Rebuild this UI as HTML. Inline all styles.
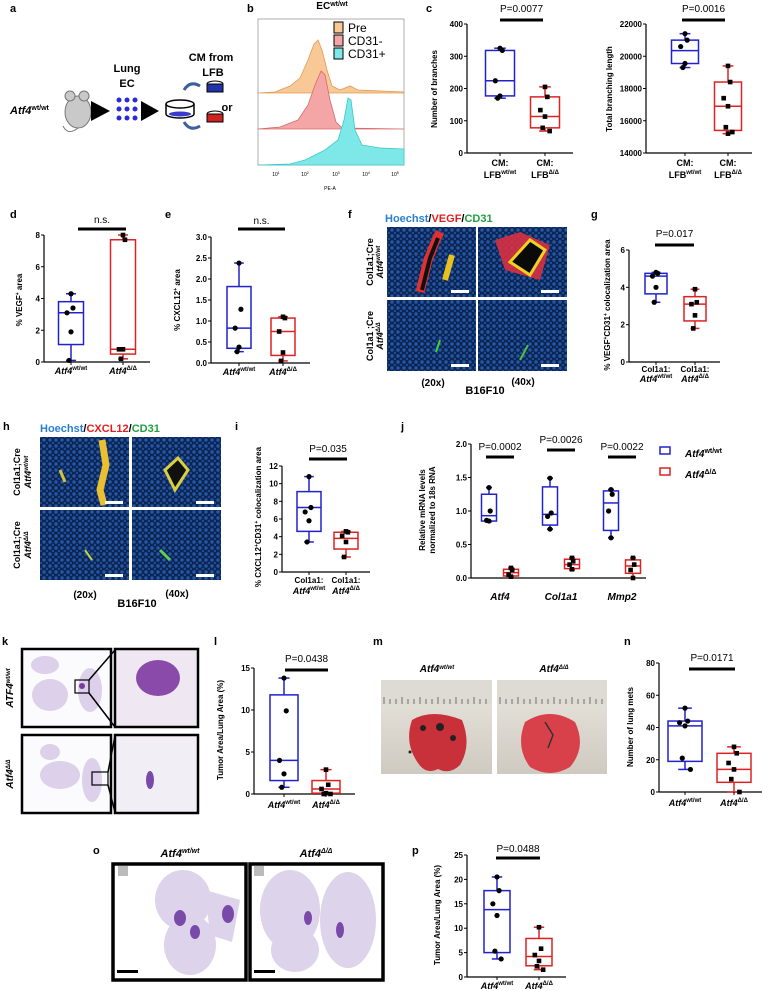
<!DOCTYPE html>
<html><head><meta charset="utf-8"><style>
html,body{margin:0;padding:0;background:#fff;width:764px;height:991px;overflow:hidden}
svg{display:block;font-family:"Liberation Sans",sans-serif}
.pl{font-size:11px;font-weight:bold}
.tk{font-size:8px;font-weight:bold}
.yl{font-size:8px;font-weight:bold}
</style></head><body>
<svg id="fig" width="764" height="991" viewBox="0 0 764 991">
<defs>
<pattern id="nuc" width="6" height="6" patternUnits="userSpaceOnUse"><rect width="6" height="6" fill="#0d2552"/><circle cx="2" cy="2" r="1.7" fill="#2458a8"/><circle cx="5" cy="5" r="1.3" fill="#1c4a94"/></pattern>
<linearGradient id="photo" x1="0" y1="0" x2="0" y2="1"><stop offset="0" stop-color="#e9e6df"/><stop offset="1" stop-color="#cfcac0"/></linearGradient>
</defs>
<rect width="764" height="991" fill="#fff"/>

<g>
<text class="pl" x="10" y="12">a</text><text class="pl" x="247" y="12">b</text><text class="pl" x="426" y="12">c</text>
<text class="pl" x="10" y="218">d</text><text class="pl" x="165" y="218">e</text><text class="pl" x="348" y="218">f</text><text class="pl" x="591" y="218">g</text>
<text class="pl" x="3" y="430">h</text><text class="pl" x="235" y="430">i</text><text class="pl" x="401" y="430">j</text>
<text class="pl" x="2" y="645">k</text><text class="pl" x="214" y="645">l</text><text class="pl" x="373" y="645">m</text><text class="pl" x="624" y="645">n</text>
<text class="pl" x="93" y="854">o</text><text class="pl" x="412" y="854">p</text>
</g>

<g>
<text x="10" y="114" font-size="11" font-weight="bold" font-style="italic">Atf4<tspan font-size="7" dy="-4" font-style="normal">wt/wt</tspan></text>
<g><ellipse cx="78" cy="112" rx="13" ry="16" fill="#c9c9c9" stroke="#777"/><circle cx="70" cy="96" r="5" fill="#c9c9c9" stroke="#777"/><circle cx="84" cy="96" r="5" fill="#c9c9c9" stroke="#777"/><path d="M78 128 q-10 8 -15 -2" fill="none" stroke="#777"/></g>
<polygon points="91,101 110,111 91,121" fill="#000"/>
<g fill="#2a2ad8"><circle cx="119" cy="100" r="2.5"/><circle cx="127" cy="100" r="2.5"/><circle cx="135" cy="100" r="2.5"/><circle cx="119" cy="109" r="2.5"/><circle cx="127" cy="109" r="2.5"/><circle cx="135" cy="109" r="2.5"/><circle cx="119" cy="118" r="2.5"/><circle cx="127" cy="118" r="2.5"/><circle cx="135" cy="118" r="2.5"/></g>
<text x="127" y="72" font-size="11" font-weight="bold" text-anchor="middle">Lung</text><text x="127" y="87" font-size="11" font-weight="bold" text-anchor="middle">EC</text>
<polygon points="141,101 159,111 141,121" fill="#000"/>
<g><ellipse cx="180" cy="104" rx="14" ry="4" fill="#fff" stroke="#000" stroke-width="1.5"/><path d="M166 104 v10 a14 4 0 0 0 28 0 v-10" fill="none" stroke="#000" stroke-width="1.5"/><ellipse cx="180" cy="114" rx="11" ry="2.5" fill="#3a3ad0"/></g>
<text x="211" y="61" font-size="11" font-weight="bold" text-anchor="middle">CM from</text><text x="213" y="76" font-size="11" font-weight="bold" text-anchor="middle">LFB</text>
<g><ellipse cx="215" cy="84" rx="8" ry="3" fill="#fff" stroke="#000"/><rect x="207" y="84" width="16" height="8" fill="#2233aa" stroke="#000"/></g>
<g><ellipse cx="215" cy="114" rx="8" ry="3" fill="#fff" stroke="#000"/><rect x="207" y="114" width="16" height="8" fill="#cc2222" stroke="#000"/></g>
<text x="227" y="111" font-size="11" font-weight="bold" text-anchor="middle">or</text>
<path d="M200 86 q-10 -6 -16 4" fill="none" stroke="#3d5f9a" stroke-width="3"/>
<path d="M200 126 q-10 6 -16 -4" fill="none" stroke="#3d5f9a" stroke-width="3"/>
</g>

<g>
<text x="332" y="9" font-size="10" font-weight="bold" text-anchor="middle">EC<tspan font-size="7" dy="-3">wt/wt</tspan></text>
<rect x="258" y="19" width="146" height="146" fill="#fff" stroke="#999" stroke-width="0.8"/>
<path d="M258 93 L275 92 L290 86 L300 78 L308 60 L314 44 L318 40 L322 50 L327 70 L332 86 L340 90 L350 86 L358 90 L404 92 L404 93 Z" fill="#f8c896" stroke="#e29a50" stroke-width="0.8"/>
<path d="M258 129 L280 127 L298 120 L308 105 L315 85 L321 71 L325 75 L330 100 L336 122 L342 128 L404 129 Z" fill="#f4a5a5" stroke="#d86a6a" stroke-width="0.8"/>
<path d="M258 165 L290 164 L305 160 L325 150 L338 140 L344 120 L348 98 L351 100 L355 130 L362 145 L380 148 L404 149 L404 165 Z" fill="#7ee8e8" stroke="#3ccaca" stroke-width="0.8"/>
<g font-size="12">
<rect x="334" y="22" width="9" height="11" fill="#f8c896" stroke="#000"/><text x="348" y="32">Pre</text>
<rect x="334" y="35" width="9" height="11" fill="#f4a5a5" stroke="#000"/><text x="348" y="45">CD31-</text>
<rect x="334" y="48" width="9" height="11" fill="#7ee8e8" stroke="#000"/><text x="348" y="58">CD31+</text>
</g>
<g font-size="5" text-anchor="middle">
<text x="276" y="176">10<tspan font-size="3.5" dy="-2">1</tspan></text><text x="305" y="176">10<tspan font-size="3.5" dy="-2">2</tspan></text><text x="336" y="176">10<tspan font-size="3.5" dy="-2">3</tspan></text><text x="366" y="176">10<tspan font-size="3.5" dy="-2">4</tspan></text><text x="395" y="176">10<tspan font-size="3.5" dy="-2">5</tspan></text>
<text x="330" y="190">PE-A</text></g>
</g>

<g>
<text x="385" y="222" font-size="11" font-weight="bold"><tspan fill="#2a7fd0">Hoechst</tspan>/<tspan fill="#e02020">VEGF</tspan>/<tspan fill="#20a040">CD31</tspan></text>
<rect x="387" y="227" width="89" height="70" fill="url(#nuc)"/><rect x="478" y="227" width="89" height="70" fill="url(#nuc)"/>
<rect x="387" y="300" width="89" height="71" fill="url(#nuc)"/><rect x="478" y="300" width="89" height="71" fill="url(#nuc)"/>
<path d="M420 292 L428 260 L436 240 L440 232" stroke="#e03030" stroke-width="9" fill="none"/><path d="M422 290 L430 258 L438 238" stroke="#111" stroke-width="4" fill="none"/>
<path d="M445 280 L452 255" stroke="#e8c020" stroke-width="6" fill="none"/>
<path d="M495 240 L520 232 L550 245 L540 280 L505 270 Z" fill="#d83040" opacity="0.9"/><path d="M510 262 L530 240 L545 250 L530 275 Z" fill="#0a0a0a" stroke="#f0d020" stroke-width="3"/>
<path d="M436 352 L440 340" stroke="#40d040" stroke-width="2"/><path d="M520 360 L528 345" stroke="#50c040" stroke-width="2"/>
<g fill="#fff"><rect x="451" y="290" width="18" height="3"/><rect x="541" y="290" width="18" height="3"/><rect x="451" y="364" width="18" height="3"/><rect x="541" y="364" width="18" height="3"/></g>
<text transform="translate(373,262) rotate(-90)" font-size="9" font-weight="bold" text-anchor="middle">Col1a1;Cre</text>
<text transform="translate(383,262) rotate(-90)" font-size="9" font-weight="bold" font-style="italic" text-anchor="middle">Atf4<tspan font-size="6" dy="-3">wt/wt</tspan></text>
<text transform="translate(373,336) rotate(-90)" font-size="9" font-weight="bold" text-anchor="middle">Col1a1 ;Cre</text>
<text transform="translate(383,336) rotate(-90)" font-size="9" font-weight="bold" font-style="italic" text-anchor="middle">Atf4<tspan font-size="6" dy="-3">Δ/Δ</tspan></text>
<text x="433" y="386" font-size="10" font-weight="bold" text-anchor="middle">(20x)</text>
<text x="485" y="394" font-size="11" font-weight="bold" text-anchor="middle">B16F10</text>
<text x="523" y="385" font-size="10" font-weight="bold" text-anchor="middle">(40x)</text>
</g>

<g>
<text x="40" y="432" font-size="11" font-weight="bold"><tspan fill="#2a7fd0">Hoechst</tspan>/<tspan fill="#e02020">CXCL12</tspan>/<tspan fill="#20a040">CD31</tspan></text>
<rect x="40" y="437" width="89" height="70" fill="url(#nuc)"/><rect x="132" y="437" width="89" height="70" fill="url(#nuc)"/>
<rect x="40" y="510" width="89" height="70" fill="url(#nuc)"/><rect x="132" y="510" width="89" height="70" fill="url(#nuc)"/>
<path d="M102 440 L106 465 L100 490 L104 505" stroke="#e8c030" stroke-width="7" fill="none"/><path d="M60 470 L65 482" stroke="#d0c040" stroke-width="3"/>
<path d="M165 470 L178 458 L188 470 L175 490 Z" fill="#101010" stroke="#d8d040" stroke-width="3"/>
<path d="M85 550 L92 560" stroke="#c0d050" stroke-width="2"/><path d="M160 550 L170 560" stroke="#60d050" stroke-width="3"/>
<g fill="#fff"><rect x="105" y="501" width="18" height="3"/><rect x="196" y="501" width="18" height="3"/><rect x="105" y="574" width="18" height="3"/><rect x="196" y="574" width="18" height="3"/></g>
<text transform="translate(20,472) rotate(-90)" font-size="9" font-weight="bold" text-anchor="middle">Col1a1;Cre</text>
<text transform="translate(31,472) rotate(-90)" font-size="9" font-weight="bold" font-style="italic" text-anchor="middle">Atf4<tspan font-size="6" dy="-3">wt/wt</tspan></text>
<text transform="translate(20,545) rotate(-90)" font-size="9" font-weight="bold" text-anchor="middle">Col1a1;Cre</text>
<text transform="translate(31,545) rotate(-90)" font-size="9" font-weight="bold" font-style="italic" text-anchor="middle">Atf4<tspan font-size="6" dy="-3">Δ/Δ</tspan></text>
<text x="85" y="598" font-size="10" font-weight="bold" text-anchor="middle">(20x)</text>
<text x="137" y="607" font-size="11" font-weight="bold" text-anchor="middle">B16F10</text>
<text x="177" y="597" font-size="10" font-weight="bold" text-anchor="middle">(40x)</text>
</g>

<g>
<rect x="22" y="649" width="89" height="78" fill="#fbfafd" stroke="#000" stroke-width="2.5"/><rect x="115" y="649" width="83" height="78" fill="#efe8f3" stroke="#000" stroke-width="2.5"/>
<rect x="22" y="735" width="89" height="78" fill="#fbfafd" stroke="#000" stroke-width="2.5"/><rect x="115" y="735" width="83" height="78" fill="#f2eef6" stroke="#000" stroke-width="2.5"/>
<g fill="#dcd0ea"><ellipse cx="45" cy="665" rx="14" ry="9"/><ellipse cx="50" cy="695" rx="18" ry="16"/><ellipse cx="90" cy="690" rx="12" ry="22"/><ellipse cx="60" cy="775" rx="20" ry="14"/><ellipse cx="92" cy="780" rx="10" ry="22"/><ellipse cx="50" cy="752" rx="10" ry="8"/></g>
<rect x="75" y="680" width="14" height="13" fill="none" stroke="#000" stroke-width="1.2"/><circle cx="82" cy="686" r="3" fill="#7a3d9a"/>
<ellipse cx="158" cy="678" rx="22" ry="18" fill="#8a4aaa"/>
<rect x="92" y="772" width="16" height="13" fill="none" stroke="#000" stroke-width="1.2"/>
<ellipse cx="150" cy="780" rx="4" ry="9" fill="#7a4aa8"/>
<path d="M89 680 L115 650 M89 693 L115 727 M108 772 L115 736 M108 785 L115 812" stroke="#000" stroke-width="1.5"/>
<text transform="translate(13,688) rotate(-90)" font-size="10" font-weight="bold" font-style="italic" text-anchor="middle">ATF4<tspan font-size="6" dy="-3">wt/wt</tspan></text>
<text transform="translate(13,774) rotate(-90)" font-size="10" font-weight="bold" font-style="italic" text-anchor="middle">Atf4<tspan font-size="6" dy="-3">Δ/Δ</tspan></text>
</g>

<g>
<text x="437" y="672" font-size="10" font-weight="bold" font-style="italic" text-anchor="middle">Atf4<tspan font-size="6" dy="-3">wt/wt</tspan></text>
<text x="554" y="672" font-size="10" font-weight="bold" font-style="italic" text-anchor="middle">Atf4<tspan font-size="6" dy="-3">Δ/Δ</tspan></text>
<rect x="381" y="680" width="111" height="94" fill="url(#photo)"/><rect x="497" y="680" width="110" height="94" fill="url(#photo)"/>
<rect x="381" y="680" width="111" height="24" fill="#dedbd4"/><rect x="497" y="680" width="110" height="24" fill="#dedbd4"/>
<path d="M384 704 V697 M390 704 V699 M396 704 V699 M402 704 V697 M408 704 V699 M414 704 V699 M420 704 V697 M426 704 V699 M432 704 V699 M438 704 V697 M444 704 V699 M450 704 V699 M456 704 V697 M462 704 V699 M468 704 V699 M474 704 V697 M480 704 V699 M486 704 V699 M500 704 V697 M506 704 V699 M512 704 V699 M518 704 V697 M524 704 V699 M530 704 V699 M536 704 V697 M542 704 V699 M548 704 V699 M554 704 V697 M560 704 V699 M566 704 V699 M572 704 V697 M578 704 V699 M584 704 V699 M590 704 V697 M596 704 V699 M602 704 V699" stroke="#555" stroke-width="0.8"/>
<path d="M412 720 q20 -12 50 0 q10 25 -2 45 q-10 10 -22 4 q-12 6 -20 -6 q-14 -20 -6 -43 z" fill="#c8303a"/>
<circle cx="423" cy="728" r="3" fill="#222"/><circle cx="440" cy="727" r="4" fill="#222"/><circle cx="453" cy="738" r="3" fill="#222"/><circle cx="410" cy="752" r="1.5" fill="#222"/>
<path d="M525 722 q25 -16 50 0 q12 25 -5 45 q-20 12 -40 0 q-15 -20 -5 -45 z" fill="#d8404a"/>
<path d="M545 722 L553 735 L548 748" stroke="#333" stroke-width="1.5" fill="none"/>
</g>

<g>
<text x="180" y="857" font-size="11" font-weight="bold" font-style="italic" text-anchor="middle">Atf4<tspan font-size="7" dy="-4">wt/wt</tspan></text>
<text x="316" y="857" font-size="11" font-weight="bold" font-style="italic" text-anchor="middle">Atf4<tspan font-size="7" dy="-4">Δ/Δ</tspan></text>
<rect x="113" y="864" width="133" height="116" fill="#fff" stroke="#000" stroke-width="3.5"/><rect x="250" y="864" width="133" height="116" fill="#fff" stroke="#000" stroke-width="3.5"/>
<g fill="#ddd3ea"><ellipse cx="183" cy="900" rx="28" ry="30"/><ellipse cx="190" cy="945" rx="26" ry="30"/><path d="M205 890 L240 900 L232 942 L210 935 Z"/><ellipse cx="290" cy="910" rx="30" ry="40"/><ellipse cx="348" cy="920" rx="28" ry="48"/><ellipse cx="295" cy="950" rx="24" ry="22"/></g>
<g fill="#7a4aa8"><ellipse cx="180" cy="918" rx="6" ry="8"/><ellipse cx="195" cy="932" rx="5" ry="7"/><ellipse cx="228" cy="914" rx="6" ry="9"/><ellipse cx="308" cy="918" rx="4" ry="7"/><ellipse cx="340" cy="930" rx="4" ry="8"/></g>
<rect x="118" y="866" width="10" height="10" fill="#bbb"/><rect x="254" y="866" width="10" height="10" fill="#bbb"/>
<rect x="117" y="970" width="21" height="3" fill="#000"/><rect x="254" y="970" width="21" height="3" fill="#000"/>
</g>

<g id="charts"></g>
</svg>
<script>
const boxCats = ['wt/wt','Δ/Δ'];
const cBranchTicks = [0,100,200,300,400];
const cBranchWt = [170,177,224,318,325];
const cBranchWtPts = [325,318,224,177,170];
const cBranchKo = [68,78,113,174,205];
const cBranchKoPts = [205,174,133,113,78,68];
const cLenTicks = [14000,16000,18000,20000,22000];
const cLenWt = [19300,19550,20350,21000,21400];
const cLenWtPts = [21400,21000,20600,19550,19300];
const cLenKo = [15200,15400,16900,18400,19400];
const cLenKoPts = [19400,18400,17400,16900,15600,15300,15200];
const dTicks = [0,2,4,6,8];
const dWt = [0.1,1.1,3.1,3.8,4.3];
const dWtPts = [4.3,3.4,3.1,1.9,0.1];
const dKo = [0.2,0.5,0.8,7.7,8.0];
const dKoPts = [8.0,7.7,0.8,0.8,0.2];
const eTicks = [0,0.5,1.0,1.5,2.0,2.5,3.0];
const eTickLabels = ['0.0','0.5','1.0','1.5','2.0','2.5','3.0'];
const eWt = [0.27,0.35,0.83,1.82,2.38];
const eWtPts = [2.38,1.28,0.83,0.38,0.27];
const eKo = [0.05,0.18,0.75,1.07,1.1];
const eKoPts = [1.1,1.07,0.75,0.25,0.05];
const gTicks = [0,2,4,6];
const gWt = [3.2,3.65,4.6,4.75,4.8];
const gWtPts = [4.8,4.75,4.6,4.0,3.2];
const gKo = [1.8,2.2,3.1,3.5,3.9];
const gKoPts = [3.9,3.2,3.1,2.5,1.8];
const iTicks = [0,2,4,6,8,10,12];
const iWt = [3.4,4.6,7.3,9.1,10.8];
const iWtPts = [10.8,7.3,6.8,5.8,3.4];
const iKo = [1.7,2.6,3.8,4.5,4.6];
const iKoPts = [4.6,4.5,4.1,3.4,1.7];
const jGenes = ['Atf4','Col1a1','Mmp2'];
const jPvals = ['P=0.0002','P=0.0026','P=0.0022'];
const jTicks = [0,0.5,1.0,1.5,2.0];
const jTickLabels = ['0.0','0.5','1.0','1.5','2.0'];
const jWt = [[0.84,0.85,0.93,1.25,1.35],[0.73,0.79,0.95,1.36,1.49],[0.6,0.71,1.12,1.3,1.32]];
const jWtPts = [[1.35,1.0,0.86,0.85],[1.49,0.97,0.92,0.73],[1.32,1.25,1.0,0.6]];
const jKo = [[0.02,0.03,0.08,0.13,0.15],[0.12,0.14,0.2,0.28,0.3],[0.0,0.07,0.18,0.27,0.3]];
const jKoPts = [[0.15,0.12,0.05,0.02],[0.3,0.25,0.2,0.13],[0.3,0.2,0.12,0.0]];
const lTicks = [0,5,10,15];
const lWt = [0.8,1.6,4.0,11.8,13.8];
const lWtPts = [13.8,9.9,4.0,2.4,0.8];
const lKo = [0,0.1,0.6,1.6,2.9];
const lKoPts = [2.9,1.1,0.6,0.1,0,0];
const nTicks = [0,20,40,60,80];
const nWt = [14,19,41,44,52];
const nWtPts = [52,44,43,41,21,14];
const nKo = [0,6,14,24,28];
const nKoPts = [28,24,18,14,8,0];
const pTicks = [0,5,10,15,20,25];
const pWt = [3.7,5,13.8,17.7,20.5];
const pWtPts = [20.5,17.7,15,12.6,5.3,3.7];
const pKo = [1.5,2.3,4.2,7.9,10.2];
const pKoPts = [10.2,5.8,4.5,3.3,2.2,1.5];

const NS = 'http://www.w3.org/2000/svg';
const root = document.getElementById('charts');
const BLUE = '#2222cc', RED = '#dd2222';
function mk(tag, attrs, parent) {
  const e = document.createElementNS(NS, tag);
  for (const k in attrs) e.setAttribute(k, attrs[k]);
  parent.appendChild(e);
  return e;
}
function scale(vmin, vmax, y0, y1) { return v => y0 + (v - vmin) / (vmax - vmin) * (y1 - y0); }

function axis(g, ax, y, vmin, vmax, ticks, labels, xEnd) {
  const yl = mk('line', {x1: ax, x2: ax, y1: y(vmin), y2: y(vmax), stroke: '#000', 'stroke-width': 1.2}, g);
  
  
  const xl = mk('line', {x1: ax, x2: xEnd, y1: y(vmin), y2: y(vmin), stroke: '#000', 'stroke-width': 1.2}, g);
  
  
  ticks.forEach((t, i) => {
    const tl = mk('line', {x1: ax - 3, x2: ax, y1: y(t), y2: y(t), stroke: '#000'}, g);
    
    
    const tx = mk('text', {x: ax - 4, y: y(t) + 3, 'text-anchor': 'end', class: 'tk'}, g);
    tx.textContent = labels ? labels[i] : String(t);
    
    
  });
}
function box(g, y, x, w, st, pts, color, square) {
  const bg = mk('g', {}, g);
  
  
  mk('line', {x1: x, x2: x, y1: y(st[0]), y2: y(st[4]), stroke: color, 'stroke-width': 1.5}, bg);
  mk('line', {x1: x - w * 0.2, x2: x + w * 0.2, y1: y(st[0]), y2: y(st[0]), stroke: color, 'stroke-width': 1.5}, bg);
  mk('line', {x1: x - w * 0.2, x2: x + w * 0.2, y1: y(st[4]), y2: y(st[4]), stroke: color, 'stroke-width': 1.5}, bg);
  mk('rect', {x: x - w / 2, y: y(st[3]), width: w, height: y(st[1]) - y(st[3]), fill: '#fff', stroke: color, 'stroke-width': 1.5}, bg);
  mk('line', {x1: x - w / 2, x2: x + w / 2, y1: y(st[2]), y2: y(st[2]), stroke: color, 'stroke-width': 1.5}, bg);
  pts.forEach((v, i) => {
    const dx = (i % 2 ? 1 : -1) * (i % 3) * w * 0.08;
    let p;
    if (square) p = mk('rect', {x: x + dx - 2.3, y: y(v) - 2.3, width: 4.6, height: 4.6, fill: '#000'}, bg);
    else p = mk('circle', {cx: x + dx, cy: y(v), r: 2.6, fill: '#000'}, bg);
    
    
  });
}
function sig(g, label, x1, x2, ty, by) {
  const t = mk('text', {x: (x1 + x2) / 2, y: ty, 'text-anchor': 'middle', 'font-size': 10}, g);
  t.textContent = label;
  
  
  const b = mk('rect', {x: x1, y: by - 1.5, width: x2 - x1, height: 3, fill: '#000'}, g);
  
  
}
function ylab(g, lines, x, cy) {
  lines.forEach((s, i) => {
    const t = mk('text', {transform: `translate(${x + i * 10},${cy}) rotate(-90)`, 'text-anchor': 'middle', class: 'yl'}, g);
    t.innerHTML = s;
    
    
  });
}
function catLab(g, x, y, pre, sup) {
  const t = mk('text', {x: x, y: y, 'text-anchor': 'middle', 'font-size': 9, 'font-weight': 'bold', 'font-style': 'italic'}, g);
  t.innerHTML = pre + '<tspan font-size="6" dy="-4" font-style="normal">' + sup + '</tspan>';
  
  
}
function boxChart(name, geo, ticks, labels, wt, wtPts, ko, koPts) {
  const g = mk('g', {}, root);
  
  
  const y = scale(geo.vmin, geo.vmax, geo.yB, geo.yT);
  axis(g, geo.ax, y, geo.vmin, geo.vmax, ticks, labels, geo.xEnd);
  box(g, y, geo.bx[0], geo.w, wt, wtPts, BLUE, false);
  box(g, y, geo.bx[1], geo.w, ko, koPts, RED, true);
  geo.bx.forEach(x => mk('line', {x1: x, x2: x, y1: geo.yB, y2: geo.yB + 3, stroke: '#000'}, g));
  return g;
}

let g = boxChart('chart-c-branches', {ax: 467, yB: 153, yT: 24, vmin: 0, vmax: 400, bx: [500, 545], w: 29, xEnd: 573}, cBranchTicks, null, cBranchWt, cBranchWtPts, cBranchKo, cBranchKoPts);
sig(g, 'P=0.0077', 500, 543, 12, 20); ylab(g, ['Number of branches'], 437, 89);
[[500, boxCats[0]], [545, boxCats[1]]].forEach(([x, c]) => { const t = mk('text', {x: x, y: 166, 'text-anchor': 'middle', 'font-size': 9, 'font-weight': 'bold'}, g); t.textContent = 'CM:'; const u = mk('text', {x: x, y: 178, 'text-anchor': 'middle', 'font-size': 9, 'font-weight': 'bold'}, g); u.innerHTML = 'LFB<tspan font-size="6" dy="-4">' + c + '</tspan>'; });
g = boxChart('chart-c-length', {ax: 646, yB: 153, yT: 24, vmin: 14000, vmax: 22000, bx: [685, 728], w: 27, xEnd: 752}, cLenTicks, null, cLenWt, cLenWtPts, cLenKo, cLenKoPts);
sig(g, 'P=0.0016', 682, 725, 12, 20); ylab(g, ['Total branching length'], 612, 89);
[[685, boxCats[0]], [728, boxCats[1]]].forEach(([x, c]) => { const t = mk('text', {x: x, y: 166, 'text-anchor': 'middle', 'font-size': 9, 'font-weight': 'bold'}, g); t.textContent = 'CM:'; const u = mk('text', {x: x, y: 178, 'text-anchor': 'middle', 'font-size': 9, 'font-weight': 'bold'}, g); u.innerHTML = 'LFB<tspan font-size="6" dy="-4">' + c + '</tspan>'; });
g = boxChart('chart-d-vegf', {ax: 44, yB: 362, yT: 235, vmin: 0, vmax: 8, bx: [71, 123], w: 25, xEnd: 150}, dTicks, null, dWt, dWtPts, dKo, dKoPts);
sig(g, 'n.s.', 78, 126, 223, 229); ylab(g, ['% VEGF<tspan font-size="5" dy="-3">+</tspan><tspan dy="3"> area</tspan>'], 22, 300);
catLab(g, 71, 374, 'Atf4', boxCats[0]); catLab(g, 123, 374, 'Atf4', boxCats[1]);
g = boxChart('chart-e-cxcl12', {ax: 211, yB: 363, yT: 237, vmin: 0, vmax: 3, bx: [239, 283], w: 24, xEnd: 310}, eTicks, eTickLabels, eWt, eWtPts, eKo, eKoPts);
sig(g, 'n.s.', 238, 285, 224, 229); ylab(g, ['% CXCL12<tspan font-size="5" dy="-3">+</tspan><tspan dy="3"> area</tspan>'], 180, 300);
catLab(g, 239, 375, 'Atf4', boxCats[0]); catLab(g, 283, 375, 'Atf4', boxCats[1]);
g = boxChart('chart-g-vegf-cd31', {ax: 629, yB: 362, yT: 250, vmin: 0, vmax: 6, bx: [656, 695], w: 22, xEnd: 720}, gTicks, null, gWt, gWtPts, gKo, gKoPts);
sig(g, 'P=0.017', 655, 694, 237, 245); ylab(g, ['% VEGF<tspan font-size="5" dy="-3">+</tspan><tspan dy="3">CD31</tspan><tspan font-size="5" dy="-3">+</tspan><tspan dy="3"> colocalization area</tspan>'], 610, 305);
[656, 695].forEach((x, i) => { const t = mk('text', {x: x, y: 372, 'text-anchor': 'middle', 'font-size': 8, 'font-weight': 'bold'}, g); t.textContent = 'Col1a1:'; catLab(g, x, 382, 'Atf4', boxCats[i]); });
g = boxChart('chart-i-cxcl12-cd31', {ax: 282, yB: 572, yT: 466, vmin: 0, vmax: 12, bx: [309, 346], w: 24, xEnd: 370}, iTicks, null, iWt, iWtPts, iKo, iKoPts);
sig(g, 'P=0.035', 309, 347, 452, 459); ylab(g, ['% CXCL12<tspan font-size="5" dy="-3">+</tspan><tspan dy="3">CD31</tspan><tspan font-size="5" dy="-3">+</tspan><tspan dy="3"> colocalization area</tspan>'], 261, 517);
[309, 346].forEach((x, i) => { const t = mk('text', {x: x, y: 583, 'text-anchor': 'middle', 'font-size': 8, 'font-weight': 'bold'}, g); t.textContent = 'Col1a1:'; catLab(g, x, 594, 'Atf4', boxCats[i]); });
g = boxChart('chart-l-tumor-area', {ax: 254, yB: 794, yT: 668, vmin: 0, vmax: 15, bx: [284, 326], w: 28, xEnd: 355}, lTicks, null, lWt, lWtPts, lKo, lKoPts);
sig(g, 'P=0.0438', 285, 328, 662, 670); ylab(g, ['Tumor Area/Lung Area (%)'], 223, 730);
catLab(g, 284, 808, 'Atf4', boxCats[0]); catLab(g, 326, 808, 'Atf4', boxCats[1]);
g = boxChart('chart-n-lung-mets', {ax: 659, yB: 792, yT: 663, vmin: 0, vmax: 80, bx: [685, 734], w: 34, xEnd: 762}, nTicks, null, nWt, nWtPts, nKo, nKoPts);
sig(g, 'P=0.0171', 689, 735, 661, 669); ylab(g, ['Number of lung mets'], 633, 727);
catLab(g, 685, 806, 'Atf4', boxCats[0]); catLab(g, 734, 806, 'Atf4', boxCats[1]);
g = boxChart('chart-p-tumor-area', {ax: 467, yB: 977, yT: 855, vmin: 0, vmax: 25, bx: [497, 539], w: 26, xEnd: 566}, pTicks, null, pWt, pWtPts, pKo, pKoPts);
sig(g, 'P=0.0488', 496, 540, 852, 858); ylab(g, ['Tumor Area/Lung Area (%)'], 440, 915);
catLab(g, 497, 989, 'Atf4', boxCats[0]); catLab(g, 539, 989, 'Atf4', boxCats[1]);

(function () {
  const gj = mk('g', {}, root);
  
  
  const y = scale(0, 2, 578, 444);
  axis(gj, 471, y, 0, 2, jTicks, jTickLabels, 646);
  const gx = i => 500 + i * 61;
  jGenes.forEach((gene, i) => {
    box(gj, y, gx(i) - 11, 15, jWt[i], jWtPts[i], BLUE, false);
    box(gj, y, gx(i) + 11, 15, jKo[i], jKoPts[i], RED, true);
    const t = mk('text', {x: gx(i), y: 600, 'text-anchor': 'middle', 'font-size': 10, 'font-weight': 'bold', 'font-style': 'italic'}, gj);
    t.textContent = gene;
    
    
    const ty = i === 1 ? 443 : 450;
    sig(gj, jPvals[i], gx(i) - 14, gx(i) + 14, ty, ty + 7);
  });
  ylab(gj, ['Relative mRNA levels', 'normalized to 18s RNA'], 425, 510);
  [[BLUE, boxCats[0], 451], [RED, boxCats[1], 472]].forEach(([c, s, yy]) => {
    const r = mk('rect', {x: 660, y: yy - 4, width: 10, height: 7, fill: '#fff', stroke: c, 'stroke-width': 1.5}, gj);
    
    
    const t = mk('text', {x: 685, y: yy + 6, 'font-size': 10, 'font-weight': 'bold', 'font-style': 'italic'}, gj);
    t.innerHTML = 'Atf4<tspan font-size="7" dy="-4" font-style="normal">' + s + '</tspan>';
    
    
  });
})();
</script>
</body></html>
